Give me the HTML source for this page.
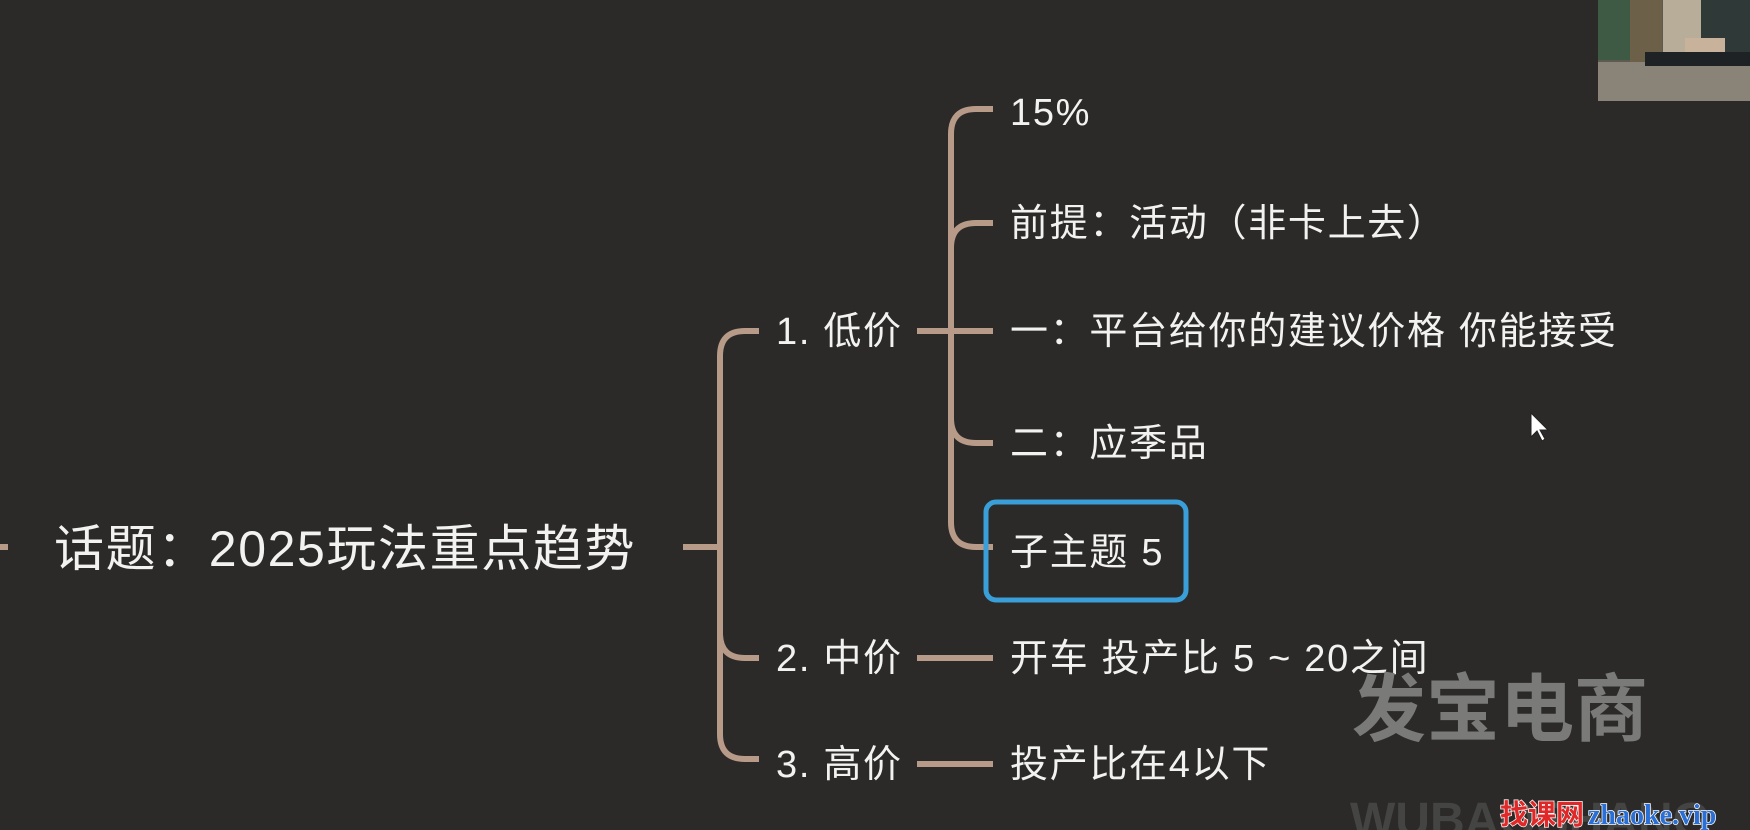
<!DOCTYPE html>
<html><head><meta charset="utf-8"><style>
html,body{margin:0;padding:0;background:#2b2a28;}
svg{display:block}
text{font-family:"Liberation Sans","Noto Sans CJK SC",sans-serif;fill:#f2f2f0;}
</style></head><body>
<svg width="1750" height="830" viewBox="0 0 1750 830" xmlns="http://www.w3.org/2000/svg">
<rect width="1750" height="830" fill="#2b2a28"/>
<g fill="none" stroke="#b89a88" stroke-width="6" stroke-linecap="butt">
  <line x1="0" y1="547" x2="8" y2="547"/>
  <line x1="683" y1="547" x2="720" y2="547"/>
  <path d="M759 331 H745 Q720 331 720 356 V734 Q720 759 745 759 H759"/>
  <path d="M720 633 Q720 658 745 658 H759"/>
  <line x1="917" y1="331" x2="993" y2="331"/>
  <path d="M993 109 H976 Q951 109 951 134 V522 Q951 547 976 547 H993"/>
  <path d="M993 223 H976 Q951 223 951 248"/>
  <path d="M951 418 Q951 443 976 443 H993"/>
  <line x1="917" y1="658" x2="993" y2="658"/>
  <line x1="917" y1="764" x2="993" y2="764"/>
</g>
<rect x="986" y="502" width="200" height="98" rx="10" fill="none" stroke="#3a9fd8" stroke-width="5"/>
<text x="54" y="566" font-size="50" letter-spacing="1.6">话题：2025玩法重点趋势</text>
<g font-size="38" letter-spacing="1.7">
<text x="776" y="344">1. 低价</text>
<text x="776" y="671">2. 中价</text>
<text x="776" y="777">3. 高价</text>
<text x="1010" y="125">15%</text>
<text x="1010" y="236">前提：活动（非卡上去）</text>
<text x="1010" y="344">一：平台给你的建议价格 你能接受</text>
<text x="1010" y="456">二：应季品</text>
<text x="1010" y="565">子主题 5</text>
<text x="1010" y="671">开车 投产比  5 ~ 20之间</text>
<text x="1010" y="777">投产比在4以下</text>
</g>
<text x="1352" y="735" font-size="74" font-weight="bold" style="fill:#7a7a78">发宝电商</text>
<text x="1350" y="836" font-size="48" font-weight="bold" style="fill:#444442">WUBAOSHANG</text>
<text x="1500" y="824" font-size="28" font-weight="bold" style="fill:#e02828;stroke:#fff;stroke-width:1.5;paint-order:stroke">找课网</text>
<text x="1588" y="824" font-size="28" font-weight="bold" style="fill:#2a6fd6;stroke:#fff;stroke-width:1.5;paint-order:stroke;font-family:'Liberation Serif',serif">zhaoke.vip</text>
<path d="M1531 413 L1531 437 L1537 431 L1542 441 L1545 439 L1540 430 L1548 430 Z" fill="#fff" stroke="#222" stroke-width="1"/>
<g>
  <rect x="1598" y="0" width="152" height="101" fill="#5d5a52"/>
  <rect x="1598" y="0" width="40" height="60" fill="#3f5a44"/>
  <rect x="1630" y="0" width="32" height="70" fill="#6c6049"/>
  <rect x="1663" y="0" width="38" height="65" fill="#b8ad98"/>
  <rect x="1701" y="0" width="49" height="60" fill="#2f3a38"/>
  <rect x="1598" y="62" width="152" height="39" fill="#8a8478"/>
  <rect x="1645" y="52" width="105" height="14" fill="#1f2224"/>
  <rect x="1685" y="38" width="40" height="14" fill="#c9b29c"/>
</g>
</svg>
</body></html>
